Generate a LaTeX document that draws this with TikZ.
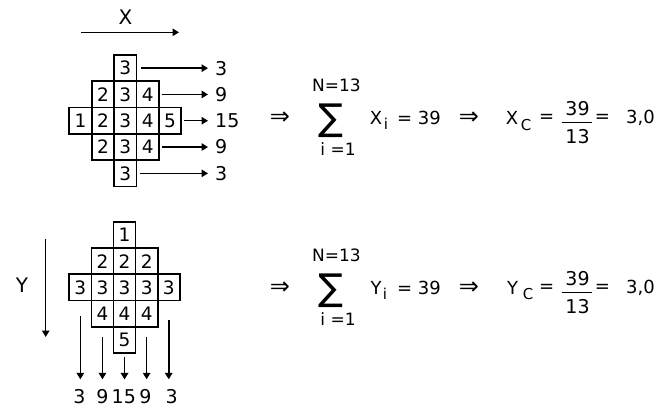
\documentclass[tikz,border=0pt]{standalone}
\usepackage{fontspec}
\setmainfont{DejaVu Sans}
\usetikzlibrary{arrows.meta}
\begin{document}
\begin{tikzpicture}[x=1pt,y=-1pt,
  cellT/.style={draw,line width=1.7pt,minimum width=22.4pt,minimum height=26.3pt,inner sep=0pt,font=\fontsize{18.5}{20}\selectfont},
  cellB/.style={cellT,minimum width=22.1pt},
  lbl/.style={inner sep=0pt,font=\fontsize{19}{21}\selectfont},
  fml/.style={inner sep=0pt,font=\fontsize{18}{20}\selectfont},
  impl/.style={inner sep=0pt,font=\fontsize{24}{26}\selectfont},
  small/.style={inner sep=0pt,font=\fontsize{17}{19}\selectfont},
  sub/.style={inner sep=0pt,font=\fontsize{15}{17}\selectfont},
  frac/.style={inner sep=0pt,font=\fontsize{19}{21}\selectfont},
  sig/.style={inner sep=0pt,font=\fontsize{37}{39}\selectfont},
  arr/.style={line width=1.5pt,-{Triangle[length=6.5pt,width=7.5pt]}},
  bar/.style={line width=1.4pt}]
\useasboundingbox (0,0) rectangle (662,409);

% ---------- top part ----------
\node[lbl,font=\fontsize{20}{22}\selectfont] (xl) at (125.5,17.5) {X};
\coordinate (xs) at (81,32.3);
\coordinate (xe) at (179,32.3);
\draw[arr] (xs) -- (xe);

\foreach \r/\c/\v in {1/3/3, 2/2/2, 2/3/3, 2/4/4, 3/1/1, 3/2/2, 3/3/3, 3/4/4, 3/5/5, 4/2/2, 4/3/3, 4/4/4, 5/3/3}
  \node[cellT] (t\r\c) at ({69.3+22.4*(\c-0.5)},{55+26.3*(\r-0.5)}) {\v};

\node[lbl,anchor=west] (r1) at (215,68.2) {3};
\node[lbl,anchor=west] (r2) at (215,94.5) {9};
\node[lbl,anchor=west] (r3) at (215,120.7) {15};
\node[lbl,anchor=west] (r4) at (215,147) {9};
\node[lbl,anchor=west] (r5) at (215,173.3) {3};
\draw[arr,shorten <=4pt,shorten >=7pt] (t13.east) -- (t13.east -| r1.west);
\draw[arr,shorten <=2pt,shorten >=7pt] (t24.east) -- (t24.east -| r2.west);
\draw[arr,shorten <=1.5pt,shorten >=7pt] (t35.east) -- (t35.east -| r3.west);
\draw[arr,shorten <=2pt,shorten >=7pt] (t44.east) -- (t44.east -| r4.west);
\draw[arr,shorten <=3pt,shorten >=7pt] (t53.east) -- (t53.east -| r5.west);

% top formula
\node[impl] (i1) at (280,118) {⇒};
\node[small] (n1) at (336.5,85) {N=13};
\node[sig] (s1) at (331.3,120.5) {∑};
\node[small] (b1) at (338,149) {i =1};
\node[fml] (x1) at (376,118) {X};
\node[sub] (xi1) at (386,124) {i};
\node[fml] (e1) at (419,118) {= 39};
\node[impl] (i2) at (469,118) {⇒};
\node[fml] (x2) at (512,118) {X};
\node[sub] (xc1) at (526,125) {C};
\node[fml] (e2) at (546.7,118) {=};
\node[frac] (num1) at (577.5,108.3) {39};
\node[frac] (den1) at (577.5,136.7) {13};
\coordinate (f1s) at (561.7,122.7);
\coordinate (f1e) at (591.7,122.7);
\draw[bar] (f1s) -- (f1e);
\node[fml] (e3) at (602.5,118) {=};
\node[fml] (v1) at (640.5,118) {3,0};

% ---------- bottom part ----------
\node[lbl,font=\fontsize{20}{22}\selectfont] (yl) at (22,285.5) {Y};
\coordinate (ys) at (45.7,239);
\coordinate (ye) at (45.7,337);
\draw[arr] (ys) -- (ye);

\foreach \r/\c/\v in {1/3/1, 2/2/2, 2/3/2, 2/4/2, 3/1/3, 3/2/3, 3/3/3, 3/4/3, 3/5/3, 4/2/4, 4/3/4, 4/4/4, 5/3/5}
  \node[cellB] (b\r\c) at ({69.3+22.1*(\c-0.5)},{221.7+26.3*(\r-0.5)}) {\v};

\node[lbl] (c1) at (79.3,396.7) {3};
\node[lbl] (c2) at (102.3,396.7) {9};
\node[lbl] (c3) at (123.8,396.7) {15};
\node[lbl] (c4) at (145.5,396.7) {9};
\node[lbl] (c5) at (171.7,396.7) {3};
\draw[arr,shorten <=15pt,shorten >=10pt] (b31.south) -- (b31.south |- c1.north);
\draw[arr,shorten <=9pt,shorten >=10pt] (b42.south) -- (b42.south |- c2.north);
\draw[arr,shorten <=2.5pt,shorten >=10pt] (b53.south) -- (b53.south |- c3.north);
\draw[arr,shorten <=9pt,shorten >=10pt] (b44.south) -- (b44.south |- c4.north);
\draw[arr,shorten <=19pt,shorten >=10pt] (b35.south) -- (b35.south |- c5.north);

% bottom formula
\node[impl] (i3) at (280,288) {⇒};
\node[small] (n2) at (336.5,255) {N=13};
\node[sig] (s2) at (331.3,290.5) {∑};
\node[small] (b2) at (338,319) {i =1};
\node[fml] (y1) at (376,288) {Y};
\node[sub] (yi1) at (385,294) {i};
\node[fml] (e4) at (419,288) {= 39};
\node[impl] (i4) at (469,288) {⇒};
\node[fml] (y2) at (512.5,288) {Y};
\node[sub] (yc1) at (528,294) {C};
\node[fml] (e5) at (546.7,288) {=};
\node[frac] (num2) at (577.5,278.3) {39};
\node[frac] (den2) at (577.5,306.7) {13};
\coordinate (f2s) at (561.7,292.7);
\coordinate (f2e) at (591.7,292.7);
\draw[bar] (f2s) -- (f2e);
\node[fml] (e6) at (602.5,288) {=};
\node[fml] (v2) at (640.5,288) {3,0};
\end{tikzpicture}
\end{document}
